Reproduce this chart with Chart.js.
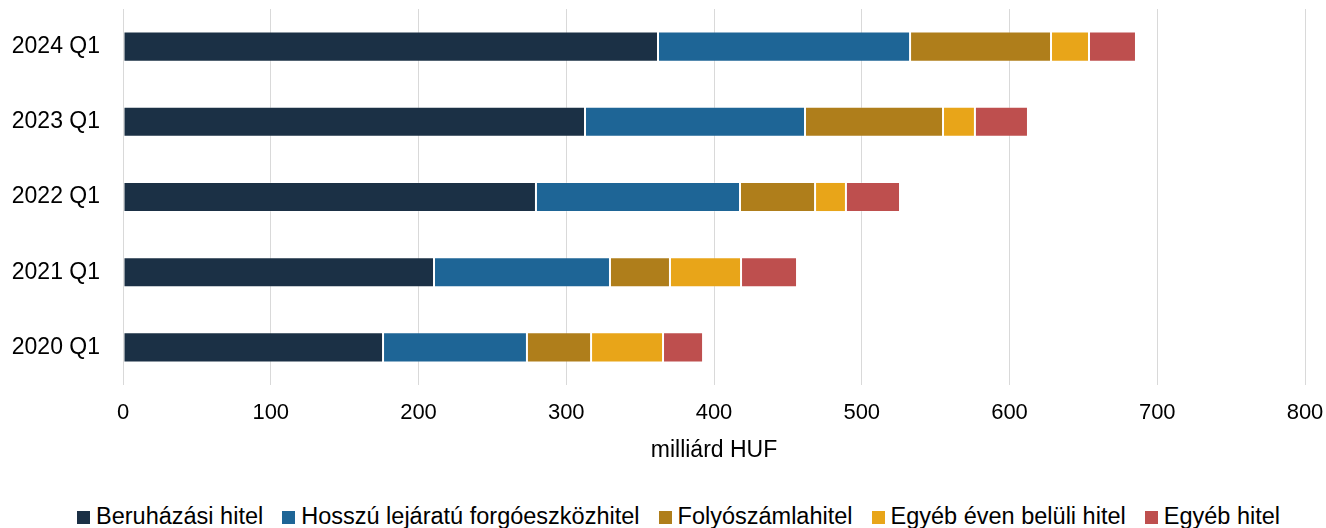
<!DOCTYPE html>
<html>
<head>
<meta charset="utf-8">
<script src="https://cdn.jsdelivr.net/npm/chart.js@4/dist/chart.umd.min.js"></script>
<style>
    body { margin: 0; background: #fff; }
    #page { position: relative; width: 1326px; height: 528px; }
    #wrap { position: absolute; left: 0; top: 0; width: 1326px; height: 490px; }
    #legend {
        position: absolute; left: 77px; top: 504px; height: 24px;
        display: flex; align-items: center;
        font-family: "Liberation Sans", Arial, sans-serif; font-size: 23.5px; color: #000;
        white-space: nowrap;
    }
    .leg-item { display: flex; align-items: center; margin-right: 19px; line-height: 24px; }
    .leg-box { width: 13px; height: 13px; margin-right: 6px; margin-top: 2px; }
</style>
</head>
<body>
<div id="page">
    <div id="wrap"><canvas id="loanChart"></canvas></div>
    <div id="legend"></div>
</div>
<script>
// periódusok (felülről lefelé)
const periods = ['2024 Q1', '2023 Q1', '2022 Q1', '2021 Q1', '2020 Q1'];

// hitelállomány típusonként, milliárd HUF
const beruhazasi = [362.1, 312.7, 279.5, 210.5, 176.0];
const hosszuForgo = [170.6, 148.9, 138.1, 119.1, 97.4];
const folyoszamla = [95.4, 93.4, 50.8, 40.6, 43.4];
const egyebEvenBelul = [25.7, 21.6, 20.9, 48.1, 48.7];
const egyebHitel = [31.8, 35.9, 36.6, 37.9, 27.1];

const seriesNames = ['Beruházási hitel', 'Hosszú lejáratú forgóeszközhitel', 'Folyószámlahitel', 'Egyéb éven belüli hitel', 'Egyéb hitel'];
const seriesColors = ['#1b3045', '#1e6596', '#af7e1b', '#e8a519', '#be4f4e'];
const xTicks = [0, 100, 200, 300, 400, 500, 600, 700, 800];

const fontFamily = '"Liberation Sans", Arial, sans-serif';

const allValues = [beruhazasi, hosszuForgo, folyoszamla, egyebEvenBelul, egyebHitel];
const datasets = allValues.map((vals, i) => ({
    label: seriesNames[i],
    data: vals,
    backgroundColor: seriesColors[i],
    borderColor: 'rgba(255,255,255,0.22)',
    borderWidth: 1,
    borderSkipped: false,
    barPercentage: 0.4,
    categoryPercentage: 1.0,
}));

new Chart(document.getElementById('loanChart'), {
    type: 'bar',
    data: {
        labels: periods,
        datasets,
    },
    options: {
        indexAxis: 'y',
        responsive: true,
        maintainAspectRatio: false,
        animation: false,
        layout: {
            padding: {top: 9, right: 21, left: 0, bottom: 0},
        },
        scales: {
            x: {
                stacked: true,
                min: 0,
                max: 800,
                afterBuildTicks: (scale) => {
                    scale.ticks = xTicks.map(v => ({value: v}));
                },
                afterFit: (scale) => {
                    // a "800" felirat ne szűkítse a rajzterületet
                    scale.paddingLeft = 0;
                    scale.paddingRight = 0;
                    scale.height = 105;
                },
                grid: {color: '#d9d9d9', lineWidth: 1, drawTicks: false},
                border: {display: false},
                ticks: {
                    padding: 15,
                    color: '#000',
                    font: {family: fontFamily, size: 22},
                },
                title: {
                    display: true,
                    text: 'milliárd HUF',
                    color: '#000',
                    font: {family: fontFamily, size: 23},
                    padding: {top: 7, bottom: 26},
                },
            },
            y: {
                stacked: true,
                grid: {display: false, drawTicks: false},
                border: {display: false},
                afterFit: (scale) => {
                    scale.width = 123;
                    scale.paddingTop = 0;
                    scale.paddingBottom = 0;
                },
                ticks: {
                    padding: 23,
                    color: '#000',
                    font: {family: fontFamily, size: 23},
                },
            },
        },
        plugins: {
            legend: {display: false}, // legenda HTML-ben
            tooltip: {enabled: false},
        },
    },
});

// jelmagyarázat
function buildLegend(container, labels, colors) {
    container.innerHTML = '';
    labels.forEach((name, i) => {
        const item = document.createElement('span');
        item.className = 'leg-item';
        const box = document.createElement('span');
        box.className = 'leg-box';
        box.style.backgroundColor = colors[i];
        const text = document.createElement('span');
        text.textContent = name;
        item.appendChild(box);
        item.appendChild(text);
        container.appendChild(item);
    });
}
buildLegend(document.getElementById('legend'), seriesNames, seriesColors);
</script>
</body>
</html>
